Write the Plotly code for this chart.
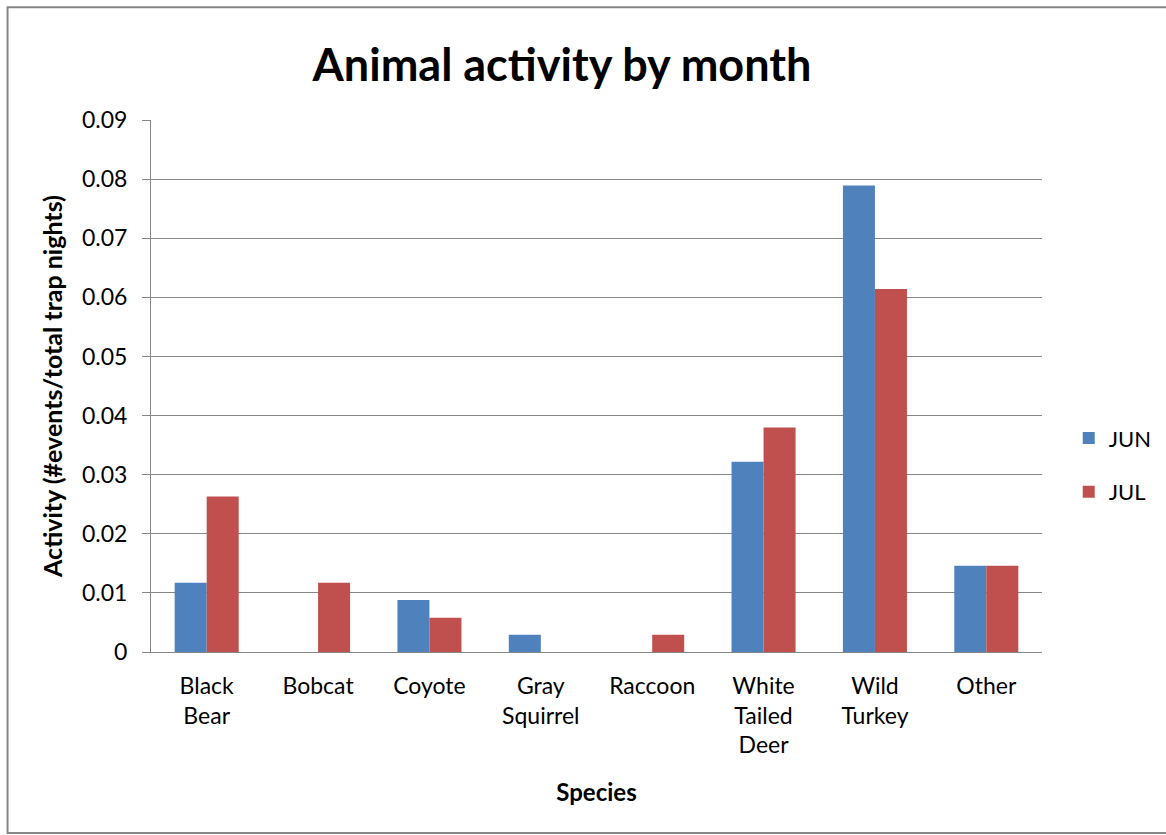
import plotly.graph_objects as go

# Activity = events / total trap nights, per species and month
species = ["Black<br>Bear", "Bobcat", "Coyote", "Gray<br>Squirrel", "Raccoon",
           "White<br>Tailed<br>Deer", "Wild<br>Turkey", "Other"]
jun = [0.0117, 0.0, 0.0088, 0.0029, 0.0, 0.0322, 0.0789, 0.0146]
jul = [0.0263, 0.0117, 0.0058, 0.0, 0.0029, 0.0380, 0.0614, 0.0146]
y_ticks = [0, 0.01, 0.02, 0.03, 0.04, 0.05, 0.06, 0.07, 0.08, 0.09]
y_labels = ["0", "0.01", "0.02", "0.03", "0.04", "0.05", "0.06", "0.07", "0.08", "0.09"]

FONT = "Lato, 'Open Sans', sans-serif"

fig = go.Figure()
fig.add_trace(go.Bar(x=species, y=jun, name="JUN", marker_color="#4F81BD",
                     marker_line_width=0, legendgroup="a"))
fig.add_trace(go.Bar(x=species, y=jul, name="JUL", marker_color="#C0504D",
                     marker_line_width=0, legendgroup="b"))

fig.update_layout(
    width=1166, height=835,
    margin=dict(l=151, r=124, t=120, b=183, autoexpand=False),
    paper_bgcolor="white", plot_bgcolor="white",
    barmode="group", bargap=0.425, bargroupgap=0,
    font=dict(family=FONT, color="#000000"),
    title=dict(text="<b>Animal activity by month</b>", x=0.482, xanchor="center",
               y=0.922, yanchor="middle", font=dict(size=45, family=FONT)),
    legend=dict(x=1.03, y=0.351, xanchor="left", yanchor="middle",
                font=dict(size=22), tracegroupgap=22, itemwidth=30),
    xaxis=dict(showgrid=False, showline=True, linecolor="#868686", linewidth=1,
               tickfont=dict(size=23), ticks="", ticklabelstandoff=13,
               title=dict(text="<b>Species</b>", font=dict(size=24), standoff=26)),
    yaxis=dict(range=[0, 0.09], tickvals=y_ticks, ticktext=y_labels,
               showgrid=True, gridcolor="#868686", gridwidth=1,
               showline=True, linecolor="#868686", linewidth=1,
               ticks="outside", ticklen=8, tickcolor="#868686",
               tickfont=dict(size=23), zeroline=False, ticklabelstandoff=10,
               title=dict(text="<b>Activity (#events/total trap nights)</b>",
                          font=dict(size=25), standoff=12)),
    shapes=[dict(type="rect", xref="paper", yref="paper",
                 x0=-0.161, x1=1.2, y0=-0.34, y1=1.212,
                 line=dict(color="#868686", width=2), layer="below")],
)

fig.write_html("out.html")
